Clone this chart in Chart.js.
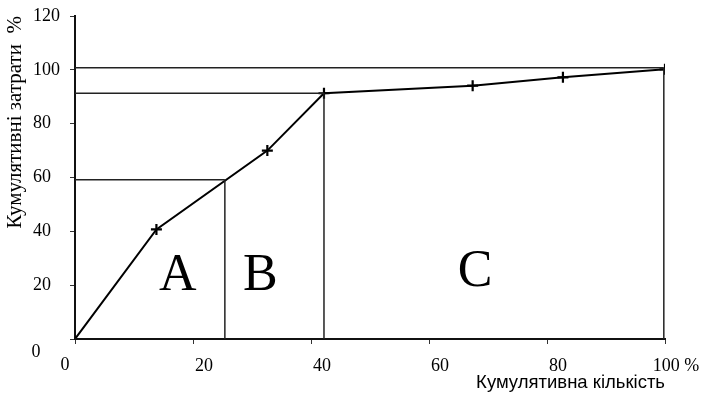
<!DOCTYPE html>
<html>
<head>
<meta charset="utf-8">
<script src="https://cdn.jsdelivr.net/npm/chart.js@4.4.1/dist/chart.umd.min.js"></script>
<style>
html,body{margin:0;padding:0;background:#fff;}
#wrap{width:713px;height:395px;position:relative;}
</style>
</head>
<body>
<div id="wrap"><canvas id="c"></canvas></div>
<script>
// Cumulative curve (ABC analysis)
const curveX = [0, 13.8, 32.6, 42.2, 67.4, 82.7, 100];
const curveY = [0, 40.7, 70, 91.3, 94.1, 97.2, 100.2];

// Zone boundaries
const boundAB = 25.4;   // cumulative quantity, A|B
const boundBC = 42.2;   // cumulative quantity, B|C
const boundEnd = 99.8;
const levelA = 59.2;    // cumulative cost at A|B
const levelB = 91.3;    // cumulative cost at B|C
const levelTop = 100.8;

// Zone labels
const zoneNames = ['A', 'B', 'C'];
const zoneX = [17.4, 31.4, 67.8];
const zoneY = [23.4, 23.4, 24.9];

// Ticks
const xTicks = [0, 20, 40, 60, 80, 100];
const yTicks = [0, 20, 40, 60, 80, 100, 120];

const xTitle = 'Кумулятивна кількість';
const yTitle = 'Кумулятивні затрати  %';

const pts = (xs, ys) => xs.map((x, i) => ({x, y: ys[i]}));
const seg = (x1, y1, x2, y2) => [{x: x1, y: y1}, {x: x2, y: y2}];

const boxStyle = {showLine: true, borderColor: '#222', borderWidth: 1.5, pointRadius: 0, fill: false, tension: 0};

const zonePlugin = {
  id: 'zones',
  afterDatasetsDraw(chart) {
    const {ctx, scales: {x, y}} = chart;
    ctx.save();
    ctx.fillStyle = '#000';
    ctx.font = '52px "Liberation Serif"';
    ctx.textAlign = 'center';
    ctx.textBaseline = 'middle';
    zoneNames.forEach((n, i) => ctx.fillText(n, x.getPixelForValue(zoneX[i]), y.getPixelForValue(zoneY[i])));
    // shared origin labels
    ctx.font = '18px "Liberation Serif"';
    ctx.fillText('0', x.getPixelForValue(0) - 39, y.getPixelForValue(0) + 13);
    ctx.fillText('0', x.getPixelForValue(0) - 10, y.getPixelForValue(0) + 26);
    ctx.restore();
  }
};

new Chart(document.getElementById('c'), {
  type: 'scatter',
  data: {
    datasets: [
      {data: seg(0, levelTop, boundEnd, levelTop), ...boxStyle},
      {data: seg(boundEnd, 0, boundEnd, levelTop), ...boxStyle},
      {data: seg(0, levelB, boundBC, levelB), ...boxStyle},
      {data: seg(boundBC, 0, boundBC, levelB), ...boxStyle},
      {data: seg(0, levelA, boundAB, levelA), ...boxStyle},
      {data: seg(boundAB, 0, boundAB, levelA), ...boxStyle},
      {data: seg(0, 0, boundEnd, 0), ...boxStyle, borderColor: '#111', borderWidth: 2},
      {
        data: pts(curveX, curveY),
        showLine: true,
        borderColor: '#000',
        borderWidth: 2,
        tension: 0,
        pointStyle: 'cross',
        pointRadius: curveX.map((v, i) => i === 0 ? 0 : 5.5),
        pointBorderWidth: 2.2,
        pointBorderColor: '#000',
        pointBackgroundColor: '#000'
      }
    ]
  },
  options: {
    responsive: true,
    maintainAspectRatio: false,
    animation: false,
    events: [],
    layout: {padding: {top: 16, right: 48, left: 0, bottom: 0}},
    plugins: {legend: {display: false}, tooltip: {enabled: false}},
    scales: {
      x: {
        type: 'linear', min: 0, max: 100,
        afterBuildTicks(s) { s.ticks = xTicks.map(v => ({value: v})); },
        afterFit(s) { s.height = 56; s.paddingLeft = 0; s.paddingRight = 0; },
        ticks: {
          color: '#000',
          font: {family: 'Liberation Serif', size: 18},
          padding: 11,
          labelOffset: 11,
          maxRotation: 0,
          callback: v => v === 0 ? '' : (v === 100 ? '100 %' : String(v))
        },
        grid: {drawOnChartArea: false, drawTicks: true, tickLength: 5, color: '#333'},
        border: {display: true, color: '#111', width: 2},
        title: {
          display: true, text: xTitle, align: 'end', color: '#000',
          font: {family: 'Liberation Sans', size: 18.5},
          padding: {top: 0, bottom: 1}
        }
      },
      y: {
        type: 'linear', min: 0, max: 120,
        afterBuildTicks(s) { s.ticks = yTicks.map(v => ({value: v})); },
        afterFit(s) { s.width = 75; s.paddingTop = 0; s.paddingBottom = 0; },
        ticks: {
          color: '#000',
          font: {family: 'Liberation Serif', size: 18},
          padding: 10,
          crossAlign: 'near',
          callback: v => v === 0 ? '' : (String(v) + (String(v).length < 3 ? '  ' : ''))
        },
        grid: {drawOnChartArea: false, drawTicks: true, tickLength: 5, color: '#333'},
        border: {display: true, color: '#111', width: 2},
        title: {
          display: true, text: yTitle, align: 'end', color: '#000',
          font: {family: 'Liberation Serif', size: 21},
          padding: {top: 3, bottom: 2}
        }
      }
    }
  },
  plugins: [zonePlugin]
});
</script>
</body>
</html>
